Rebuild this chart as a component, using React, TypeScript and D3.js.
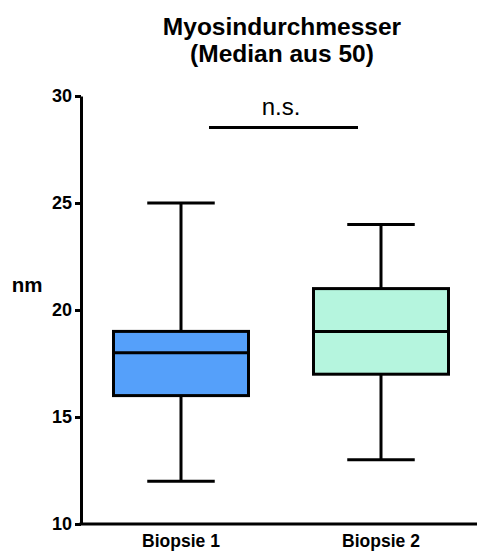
import { useEffect, useRef } from 'react'
import * as d3 from 'd3'

// Box plot data
const categories = ['Biopsie 1', 'Biopsie 2']
const minValues = [12, 13]
const q1Values = [16, 17]
const medianValues = [18, 19]
const q3Values = [19, 21]
const maxValues = [25, 24]
const boxColors = ['#55a0fa', '#b5f5de']
const yTicks = [10, 15, 20, 25, 30]

const App = () => {
  const svgRef = useRef<SVGSVGElement>(null)

  useEffect(() => {
    if (!svgRef.current) return
    const width = 477
    const height = 554
    const font = '"Liberation Sans", Arial, sans-serif'

    const svg = d3.select(svgRef.current)
    svg.selectAll('*').remove()
    svg.attr('width', width).attr('height', height)

    const xScale = d3.scaleBand<string>().domain(categories).range([81, 481]).padding(0)
    const yScale = d3.scaleLinear().domain([10, 30]).range([524, 96])

    const data = categories.map((c, i) => ({
      cat: c,
      min: minValues[i],
      q1: q1Values[i],
      median: medianValues[i],
      q3: q3Values[i],
      max: maxValues[i],
      color: boxColors[i],
    }))

    // title
    const title = svg.append('text')
      .attr('text-anchor', 'middle')
      .style('font-family', font)
      .style('font-size', '24.5px')
      .style('font-weight', 'bold')
    title.append('tspan').attr('x', 282).attr('y', 35).text('Myosindurchmesser')
    title.append('tspan').attr('x', 282).attr('y', 62).text('(Median aus 50)')

    // y axis
    const yAxis = svg.append('g')
      .attr('transform', 'translate(81,0)')
      .call(d3.axisLeft(yScale).tickValues(yTicks).tickSize(6).tickPadding(3).tickSizeOuter(0))
    yAxis.select('.domain').attr('stroke', '#000').attr('stroke-width', 3)
    yAxis.selectAll('.tick line').attr('stroke', '#000').attr('stroke-width', 3)
    yAxis.selectAll('.tick text')
      .style('font-family', font)
      .style('font-size', '18px')
      .style('font-weight', 'bold')
      .attr('fill', '#000')

    // x axis
    const xAxis = svg.append('g')
      .attr('transform', 'translate(0,524)')
      .call(d3.axisBottom(xScale).tickSize(0).tickPadding(11).tickSizeOuter(0))
    xAxis.select('.domain').attr('stroke', '#000').attr('stroke-width', 3)
      .attr('d', 'M79.5,0H477')
    xAxis.selectAll('.tick text')
      .style('font-family', font)
      .style('font-size', '17.5px')
      .style('font-weight', 'bold')
      .attr('fill', '#000')

    // y label
    svg.append('text')
      .attr('x', 27)
      .attr('y', 292)
      .attr('text-anchor', 'middle')
      .style('font-family', font)
      .style('font-size', '20.5px')
      .style('font-weight', 'bold')
      .text('nm')

    // boxes
    const boxW = xScale.bandwidth() * 0.675
    const capW = boxW / 2
    const g = svg.append('g')
    data.forEach((d) => {
      const cx = xScale(d.cat)! + xScale.bandwidth() / 2
      const bg = g.append('g')
      bg.append('line')
        .attr('x1', cx).attr('x2', cx)
        .attr('y1', yScale(d.max)).attr('y2', yScale(d.min))
        .attr('stroke', '#000').attr('stroke-width', 3)
      ;[d.min, d.max].forEach((v) => {
        bg.append('line')
          .attr('x1', cx - capW / 2).attr('x2', cx + capW / 2)
          .attr('y1', yScale(v)).attr('y2', yScale(v))
          .attr('stroke', '#000').attr('stroke-width', 3)
      })
      bg.append('rect')
        .attr('x', cx - boxW / 2)
        .attr('y', yScale(d.q3))
        .attr('width', boxW)
        .attr('height', yScale(d.q1) - yScale(d.q3))
        .attr('fill', d.color)
        .attr('stroke', '#000').attr('stroke-width', 3)
      bg.append('line')
        .attr('x1', cx - boxW / 2).attr('x2', cx + boxW / 2)
        .attr('y1', yScale(d.median)).attr('y2', yScale(d.median))
        .attr('stroke', '#000').attr('stroke-width', 3)
    })

    // significance bar
    svg.append('line')
      .attr('x1', 209).attr('x2', 358)
      .attr('y1', 127.5).attr('y2', 127.5)
      .attr('stroke', '#000').attr('stroke-width', 3)
    svg.append('text')
      .attr('x', 281)
      .attr('y', 115)
      .attr('text-anchor', 'middle')
      .style('font-family', font)
      .style('font-size', '24px')
      .text('n.s.')
  }, [])

  return <svg ref={svgRef} style={{ position: 'absolute', left: 0, top: 0, background: '#fff' }} />
}

export default App
